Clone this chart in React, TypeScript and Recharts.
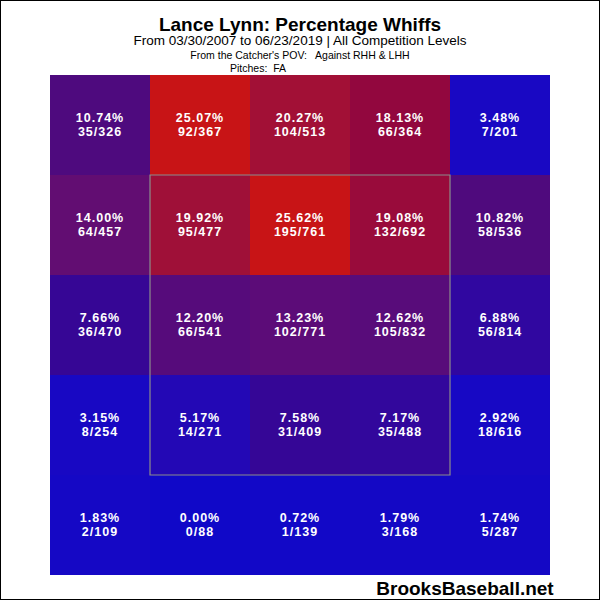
import { ComposedChart, XAxis, YAxis, ReferenceArea, Scatter } from "recharts";

// zone grid, catcher's POV, top row first
const pctRows = [
  [10.74, 25.07, 20.27, 18.13, 3.48],
  [14.0, 19.92, 25.62, 19.08, 10.82],
  [7.66, 12.2, 13.23, 12.62, 6.88],
  [3.15, 5.17, 7.58, 7.17, 2.92],
  [1.83, 0.0, 0.72, 1.79, 1.74],
];
const whiffRows = [
  [35, 92, 104, 66, 7],
  [64, 95, 195, 132, 58],
  [36, 66, 102, 105, 56],
  [8, 14, 31, 35, 18],
  [2, 0, 1, 3, 5],
];
const pitchRows = [
  [326, 367, 513, 364, 201],
  [457, 477, 761, 692, 536],
  [470, 541, 771, 832, 814],
  [254, 271, 409, 488, 616],
  [109, 88, 139, 168, 287],
];

const title = "Lance Lynn: Percentage Whiffs";
const subtitle = "From 03/30/2007 to 06/23/2019 | All Competition Levels";
const povLine = "From the Catcher's POV:   Against RHH & LHH";
const pitchLine = "Pitches:  FA";
const credit = "BrooksBaseball.net";

// colour ramp stops: [pct, r, g, b]
const stops = [
  [0, 16, 8, 200],
  [4, 26, 8, 194],
  [6, 42, 8, 172],
  [8, 56, 6, 144],
  [11, 80, 10, 124],
  [13, 90, 12, 122],
  [14.5, 102, 14, 110],
  [18, 145, 6, 62],
  [20, 160, 16, 56],
  [25, 200, 20, 22],
  [30, 200, 20, 22],
];

function colorFor(v: number) {
  for (let i = 0; i < stops.length - 1; i++) {
    const a = stops[i];
    const b = stops[i + 1];
    if (v <= b[0]) {
      const t = (v - a[0]) / (b[0] - a[0]);
      const c = [1, 2, 3].map((k) => Math.round(a[k] + (b[k] - a[k]) * t));
      return `rgb(${c[0]},${c[1]},${c[2]})`;
    }
  }
  return "rgb(200,20,22)";
}

const cells = pctRows.flatMap((row, r) =>
  row.map((pct, c) => ({
    x: c + 0.5,
    y: 4.5 - r,
    col: c,
    row: r,
    pct,
    label: `${pct.toFixed(2)}%`,
    frac: `${whiffRows[r][c]}/${pitchRows[r][c]}`,
  }))
);

const cellText = (props: any) => {
  const { cx, cy, payload } = props;
  const style = {
    fontFamily: "Liberation Sans, Arial, sans-serif",
    fontWeight: 700,
    fontSize: 12.5,
    letterSpacing: 1,
  };
  return (
    <g>
      <text x={cx} y={cy - 2.7} textAnchor="middle" fill="#fff" style={style}>
        {payload.label}
      </text>
      <text x={cx} y={cy + 11} textAnchor="middle" fill="#fff" style={style}>
        {payload.frac}
      </text>
    </g>
  );
};

export default function App() {
  return (
    <div style={{ position: "absolute", left: 0, top: 0, width: 600, height: 600, background: "#fff" }}>
      <ComposedChart
        width={600}
        height={600}
        data={cells}
        margin={{ top: 75, right: 50, bottom: 25, left: 50 }}
      >
        <XAxis type="number" dataKey="x" domain={[0, 5]} hide />
        <YAxis type="number" dataKey="y" domain={[0, 5]} hide />
        {cells.map((d) => (
          <ReferenceArea
            key={`${d.row}-${d.col}`}
            x1={d.col}
            x2={d.col + 1}
            y1={4 - d.row}
            y2={5 - d.row}
            fill={colorFor(d.pct)}
            fillOpacity={1}
            stroke="none"
            ifOverflow="visible"
          />
        ))}
        <ReferenceArea
          x1={1}
          x2={4}
          y1={1}
          y2={4}
          fill="none"
          fillOpacity={0}
          stroke="#8c8c8c"
          strokeWidth={1.2}
          ifOverflow="visible"
        />
        <Scatter dataKey="y" shape={cellText} isAnimationActive={false} />
      </ComposedChart>
      <svg
        width={600}
        height={600}
        style={{ position: "absolute", left: 0, top: 0, pointerEvents: "none" }}
      >
        <rect x={0.5} y={0.5} width={599} height={599} fill="none" stroke="#000" />
        <g fontFamily="Liberation Sans, Arial, sans-serif" fill="#000" textAnchor="middle">
          <text x={300} y={30.5} fontSize={19} fontWeight={700}>{title}</text>
          <text x={300} y={45} fontSize={13.5}>{subtitle}</text>
          <text x={300} y={59} fontSize={10.5} style={{ whiteSpace: "pre" }}>{povLine}</text>
          <text x={258} y={72} fontSize={10.5} style={{ whiteSpace: "pre" }}>{pitchLine}</text>
          <text x={465} y={595} fontSize={19} fontWeight={700}>{credit}</text>
        </g>
      </svg>
    </div>
  );
}
